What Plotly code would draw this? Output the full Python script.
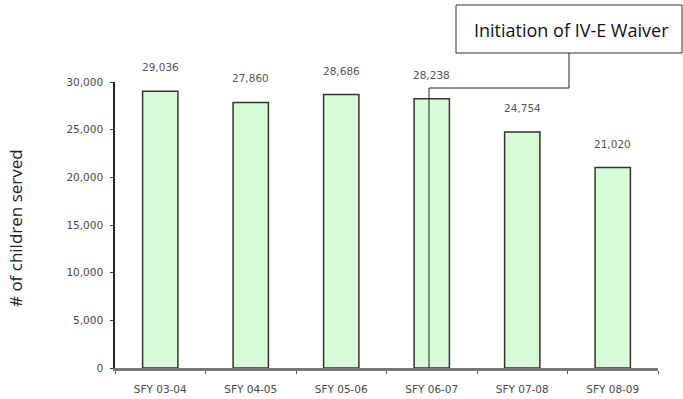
import plotly.graph_objects as go

categories = ["SFY 03-04", "SFY 04-05", "SFY 05-06", "SFY 06-07", "SFY 07-08", "SFY 08-09"]
children_served = [29036, 27860, 28686, 28238, 24754, 21020]
value_labels = ["29,036", "27,860", "28,686", "28,238", "24,754", "21,020"]
y_ticks = [0, 5000, 10000, 15000, 20000, 25000, 30000]
y_tick_labels = ["0", "5,000", "10,000", "15,000", "20,000", "25,000", "30,000"]

W, H = 683, 399
L, R, T, B = 115, 25, 82, 31
pw = W - L - R
ph = H - T - B

def px_x(p):
    return (p - L) / pw

def px_y(p):
    return (H - B - p) / ph

tick_font = dict(family="DejaVu Sans, sans-serif", size=10.5, color="#4a4a4a")

fig = go.Figure()
fig.add_trace(go.Bar(
    x=categories, y=children_served,
    marker=dict(color="#d6fbd6", line=dict(color="#333333", width=1.5)),
    width=0.39,
))

for c, v, t in zip(categories, children_served, value_labels):
    fig.add_annotation(x=c, y=v, text=t, showarrow=False, yshift=24,
                       xanchor="center", yanchor="middle",
                       font=dict(family="DejaVu Sans, sans-serif", size=10.5, color="#555555"))

fig.update_layout(
    width=W, height=H,
    margin=dict(l=L, r=R, t=T, b=B),
    plot_bgcolor="white", paper_bgcolor="white",
    showlegend=False,
    xaxis=dict(
        type="category", tickson="boundaries", automargin=False,
        showline=True, linecolor="#777777", linewidth=2.5,
        ticks="outside", ticklen=3, tickcolor="#555555",
        tickfont=tick_font, ticklabelstandoff=10,
        showgrid=False, range=[-0.5, 5.5],
    ),
    yaxis=dict(
        range=[0, 30000], tickvals=y_ticks, ticktext=y_tick_labels, automargin=False,
        showline=True, linecolor="#222222", linewidth=1.5,
        ticks="outside", ticklen=3, tickcolor="#333333",
        tickfont=tick_font, ticklabelstandoff=5,
        showgrid=False, zeroline=False,
    ),
)

# y-axis title
fig.add_annotation(
    xref="paper", yref="paper", x=px_x(16), y=px_y(228),
    xanchor="center", yanchor="middle",
    text="# of children served", textangle=-90, showarrow=False,
    font=dict(family="Open Sans, sans-serif", size=17, color="#222222"),
)

# callout box
fig.add_shape(type="rect", xref="paper", yref="paper",
              x0=px_x(456), x1=px_x(682), y0=px_y(53), y1=px_y(5),
              line=dict(color="#333333", width=1), fillcolor="white", layer="above")
fig.add_annotation(
    xref="paper", yref="paper", x=px_x(571), y=px_y(30),
    xanchor="center", yanchor="middle",
    text="Initiation of IV-E Waiver", showarrow=False,
    font=dict(family="Open Sans, sans-serif", size=18, color="#111111"),
)
# connector
fig.add_shape(type="line", xref="paper", yref="paper",
              x0=px_x(569), x1=px_x(569), y0=px_y(53), y1=px_y(88),
              line=dict(color="#222222", width=1), layer="above")
fig.add_shape(type="line", xref="paper", yref="paper",
              x0=px_x(569), x1=px_x(429), y0=px_y(88), y1=px_y(88),
              line=dict(color="#222222", width=1), layer="above")
fig.add_shape(type="line", xref="paper", yref="paper",
              x0=px_x(429), x1=px_x(429), y0=px_y(88), y1=0,
              line=dict(color="#222222", width=1), layer="above")

fig.write_html("out.html")
